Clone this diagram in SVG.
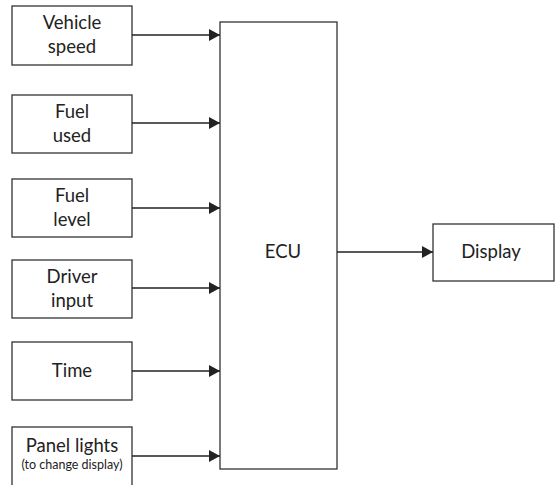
<svg xmlns="http://www.w3.org/2000/svg" width="558" height="485" viewBox="0 0 558 485">
<style>
.box{fill:#fff;stroke:#333;stroke-width:1.3}
.t{font-family:Lato,"Open Sans","Liberation Sans",sans-serif;font-size:18.5px;fill:#222;text-anchor:middle}
.s{font-size:12.5px}
.c{stroke:#222;stroke-width:1.3;fill:none}
</style>
<defs>
<marker id="ah" markerWidth="11" markerHeight="12" refX="11" refY="6" orient="auto" markerUnits="userSpaceOnUse">
<path d="M0,0 L11,6 L0,12 Z" fill="#222"/>
</marker>
</defs>
<rect width="558" height="485" fill="#fff"/>
<g id="vehicle-speed"><rect class="box" x="12" y="6" width="120" height="59"/><text class="t" x="72" y="29">Vehicle</text><text class="t" x="72" y="53">speed</text></g>
<g id="fuel-used"><rect class="box" x="12" y="95" width="120" height="58"/><text class="t" x="72" y="118">Fuel</text><text class="t" x="72" y="142">used</text></g>
<g id="fuel-level"><rect class="box" x="12" y="179" width="120" height="58"/><text class="t" x="72" y="202">Fuel</text><text class="t" x="72" y="226">level</text></g>
<g id="driver-input"><rect class="box" x="12" y="260" width="120" height="58"/><text class="t" x="72" y="283">Driver</text><text class="t" x="72" y="307">input</text></g>
<g id="time"><rect class="box" x="12" y="342" width="120" height="58"/><text class="t" x="72" y="377">Time</text></g>
<g id="panel-lights"><rect class="box" x="12" y="427" width="120" height="62"/><text class="t" x="72" y="452">Panel lights</text><text class="t s" x="72" y="469">(to change display)</text></g>
<g id="ecu"><rect class="box" x="220" y="22" width="117" height="447"/><text class="t" x="283" y="258">ECU</text></g>
<g id="display"><rect class="box" x="433" y="224" width="121" height="57"/><text class="t" x="491" y="258">Display</text></g>
<g id="connectors">
<path class="c" marker-end="url(#ah)" d="M132,35 H220"/>
<path class="c" marker-end="url(#ah)" d="M132,123 H220"/>
<path class="c" marker-end="url(#ah)" d="M132,208 H220"/>
<path class="c" marker-end="url(#ah)" d="M132,288 H220"/>
<path class="c" marker-end="url(#ah)" d="M132,371 H220"/>
<path class="c" marker-end="url(#ah)" d="M132,456 H220"/>
<path class="c" marker-end="url(#ah)" d="M337,252 H433"/>
</g>
</svg>
